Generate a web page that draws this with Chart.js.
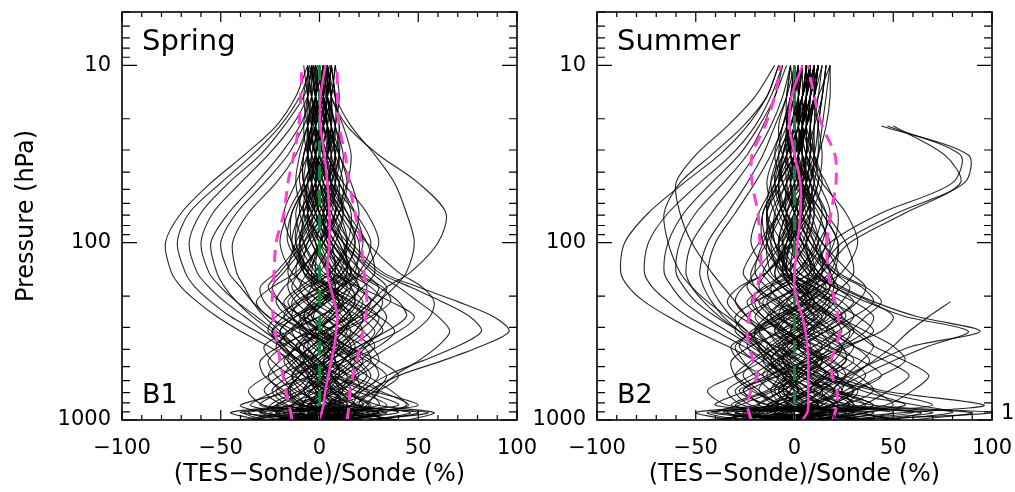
<!DOCTYPE html>
<html>
<head>
<meta charset="utf-8">
<script src="https://cdn.jsdelivr.net/npm/chart.js@4.4.1/dist/chart.umd.min.js"></script>
<style>
  html, body { margin: 0; padding: 0; background: #fff; }
  body { width: 1015px; height: 492px; position: relative; overflow: hidden; }
  canvas { position: absolute; top: 0; }
</style>
</head>
<body>
<canvas id="spring" width="560" height="492" style="left:0"></canvas>
<canvas id="summer" width="493" height="492" style="left:522px"></canvas>
<script>
// pressure levels (hPa), bottom to top
const levels = [1000, 908, 825, 681, 562, 464, 383, 316, 261, 215, 178, 147, 100, 68, 46, 32, 22, 15, 10];

const xTicks = [-100, -50, 0, 50, 100];
const yTicks = [10, 100, 1000];

// spring: mean and mean +/- std
const springMean = [0, 1, 2, 3, 4.5, 6, 7.5, 8.5, 9, 7.5, 5.5, 4, 5, 5, 4, 2.5, 0.5, 0.5, 3];
const springLow  = [-14, -14.5, -15.5, -17, -18.5, -20, -21, -22.5, -23.5, -24, -23.5, -23, -22, -18, -16, -13, -10.5, -9.5, -9];
const springHigh = [14, 14.5, 15, 15.5, 17, 19, 20.5, 22, 23.5, 24, 23.5, 22.5, 21, 18, 15, 13, 10, 9, 9];

// summer: mean and mean +/- std
const summerMean = [4, 6.5, 7, 7, 7, 7, 6.5, 5.5, 4, 1.5, 0, 0, 1.5, 3, 3, 0, -2.5, -1.5, 4];
const summerLow  = [-22, -23, -24, -22, -19, -21, -23, -24, -23, -21, -19, -17, -17.5, -18.5, -21.5, -21.5, -15, -10, -7];
const summerHigh = [19.5, 20.5, 21.5, 21.5, 19, 18.5, 21, 23, 22, 20.5, 18.5, 17, 16.5, 18.5, 21, 20.5, 14, 10, 7];

// individual spring profiles, (TES-Sonde)/Sonde in %
const springProfiles = [
  [5, -12, 8, 2, -6, 4, 10, 6, -3, 2, 8, 5, -2, 4, 6, 2, -3, 1, 3],
  [-20, 15, -5, 10, 14, 6, -4, -10, -6, 4, 12, 16, 10, 2, -4, -6, -2, 4, 6],
  [12, 30, -8, -15, -10, -2, 8, 18, 22, 14, 4, -6, -12, -8, 0, 6, 8, 4, -2],
  [-35, -10, -22, -5, 6, 12, 16, 10, 2, -8, -14, -10, 2, 10, 12, 8, 2, -4, -6],
  [40, 18, 25, 12, 4, -6, -12, -4, 8, 16, 20, 14, 4, -2, -6, -4, 0, 3, 5],
  [-8, -25, 5, 20, 18, 8, -2, -8, -14, -18, -10, 0, 8, 12, 6, -2, -6, -8, -5],
  [25, 55, 10, -4, -12, -18, -10, 4, 14, 20, 24, 18, 6, -4, -10, -8, -2, 2, 4],
  [-15, 5, -30, -18, -4, 10, 22, 28, 20, 8, -2, -8, -6, 2, 8, 10, 6, 2, 0],
  [0, -40, -12, 6, 16, 22, 14, 2, -10, -16, -8, 4, 14, 16, 10, 2, -4, -6, -8],
  [18, -5, 30, 24, 10, -4, -14, -20, -12, 2, 12, 18, 20, 12, 2, -4, -6, -2, 2],
  [-28, -38, -15, 2, -8, -16, -22, -14, 0, 10, 6, -2, -10, -6, 4, 8, 4, 0, -3],
  [10, 24, 45, 30, 14, 6, 2, 10, 18, 26, 30, 22, 8, 0, -4, -2, 2, 6, 8],
  [-5, 8, -18, -28, -20, -6, 6, 14, 8, -4, -12, -16, -12, -4, 2, 4, 2, -2, -4],
  [32, 12, -4, 8, 20, 30, 26, 16, 4, -6, -4, 6, 16, 20, 16, 10, 4, 0, -2],
  [-12, -30, -8, -14, -22, -26, -18, -6, 6, 12, 16, 12, 2, -8, -12, -10, -6, -2, 0],
  [6, 40, 20, 0, -6, 2, 12, 20, 28, 32, 26, 14, 0, -6, -2, 4, 8, 10, 8],
  [-22, 0, 12, -6, -14, -8, 0, -6, -14, -20, -24, -18, -6, 4, 10, 12, 8, 4, 2],
  [15, -18, -25, -10, 4, 16, 24, 30, 34, 28, 18, 8, -2, -8, -6, 0, 4, 2, -1],
  [45, 58, 30, 14, 6, 0, -6, -2, 6, 10, 4, -4, -14, -18, -12, -6, -2, 2, 4],
  [-40, -20, -35, -22, -12, -4, 4, 10, 16, 10, 2, -6, -10, -4, 4, 8, 10, 8, 6],
  [2, 14, -10, -20, -26, -20, -10, 0, 6, 14, 22, 28, 24, 14, 4, -2, -4, -2, 0],
  [20, -10, 16, 28, 34, 24, 10, -4, -16, -22, -18, -10, 0, 6, 8, 6, 2, -2, -3],
  [-10, 30, -2, 6, 2, -10, -18, -24, -18, -8, 4, 12, 18, 14, 6, 0, -2, 0, 2],
  [28, 4, 40, 22, 8, 12, 20, 34, 44, 40, 30, 18, 6, 0, -2, 0, 2, 4, 6],
  [-30, -45, -20, -8, 2, 8, 4, -6, -14, -10, 0, 10, 14, 8, 0, -6, -8, -6, -4],
  [8, -6, 2, 16, 24, 18, 6, -6, -20, -28, -30, -22, -10, -2, 4, 6, 4, 2, 0],
  [-2, 22, 8, -12, -18, -12, -4, 8, 20, 26, 20, 10, 2, -2, -4, -2, 0, 1, 2],
  [35, 20, 6, -2, 10, 20, 28, 22, 12, 4, -2, -4, 0, 8, 14, 16, 12, 6, 3],
  [-4, 6, -6, 4, 10, 8, 2, -4, -8, -4, 4, 8, 6, 0, -4, -6, -4, 0, 2],
  [12, -2, 14, 6, -2, -8, -10, -4, 4, 10, 14, 10, 4, 2, 4, 6, 4, 2, 0],
  [-18, -8, -2, -10, -14, -6, 4, 12, 16, 10, 0, -8, -14, -10, -2, 2, 0, -4, -6],
  [22, 8, 4, 12, 18, 14, 4, -6, -10, -4, 6, 16, 22, 18, 10, 4, 0, -2, -4],
  [-8, 20, 10, -2, -4, 2, 10, 16, 10, 0, -8, -12, -8, 0, 6, 10, 10, 8, 6],
  [4, -22, -14, -4, 4, 12, 18, 12, 2, -6, -10, -6, 2, 8, 10, 4, -2, -6, -6],
  [30, 10, -10, -16, -10, -2, 6, 4, -4, -12, -16, -14, -4, 4, 8, 8, 6, 4, 4],
  [-24, -2, 22, 14, 6, 0, -8, -14, -8, 2, 10, 14, 12, 6, -2, -6, -6, -4, -2],
  [0, 10, -4, 0, 8, 16, 10, 0, -6, 0, 8, 4, -4, -10, -8, -2, 2, 4, 4],
  [14, 34, 2, -8, -2, 6, 14, 22, 16, 6, -4, -2, 6, 12, 8, 2, -2, -2, 0],
  [-14, -28, -40, -14, -6, -12, -20, -16, -6, 4, 10, 6, -2, -6, -4, 0, 4, 6, 4],
  [8, 0, 10, 20, 26, 20, 12, 8, 12, 18, 16, 8, 0, -4, 0, 4, 6, 4, 2],
  [-16, 12, 26, 8, -8, -16, -12, 2, 16, 22, 14, 2, -8, -12, -6, 2, 6, 6, 4],
  [26, 46, 14, 2, 10, 18, 8, -8, -18, -12, 0, 12, 18, 10, 0, -6, -4, 0, 2],
  [-34, -16, 4, 16, 10, -2, -16, -26, -22, -10, 4, 14, 8, -2, -8, -8, -4, -2, -2],
  [6, -30, -22, -8, 0, 6, 16, 26, 30, 20, 6, -6, -14, -14, -6, 4, 8, 8, 6],
  [16, 2, -16, -24, -14, 4, 20, 32, 26, 12, 0, -6, 0, 10, 14, 10, 4, -2, -4],
  [-26, 18, 6, 22, 30, 26, 14, 0, -10, -14, -6, 6, 14, 10, 2, -4, -6, -6, -4],
  [38, 24, 50, 26, 6, -10, -20, -24, -14, 0, 10, 16, 10, 2, -2, 0, 2, 4, 6],
  [-10, -22, 14, 4, -14, -24, -28, -16, 0, 14, 20, 16, 6, -4, -8, -6, -2, 2, 2],
  [0, 28, -10, -22, -4, 14, 30, 38, 30, 16, 2, -8, -10, -2, 6, 10, 8, 4, 2],
  [20, -14, 6, 30, 40, 30, 14, 2, -4, 0, 10, 20, 26, 18, 6, -2, -4, -2, 0],
  [-6, 4, -28, -36, -26, -14, -4, 4, 12, 18, 12, 0, -8, -8, -2, 4, 4, 2, 0],
  [10, -4, 18, 8, -4, -10, -4, 8, 20, 30, 34, 26, 12, 4, 0, -2, -2, 0, 2],
  [-20, -36, -6, 10, 20, 14, 2, -12, -26, -32, -24, -12, 2, 8, 6, 2, -2, -4, -4],
  [4, 14, 34, 18, 0, -8, -2, 10, 22, 16, 4, -6, -16, -14, -6, 0, 2, 2, 2],
  [-12, -4, -10, 4, 18, 26, 22, 8, -8, -20, -26, -20, -8, 2, 6, 8, 6, 2, -2],
  [28, 50, 18, 10, 2, -4, 0, 12, 26, 36, 32, 18, 2, -6, -6, -2, 2, 4, 4],
  [-2, -18, 20, 30, 16, 0, -14, -20, -12, 4, 16, 20, 12, 0, -8, -8, -4, 0, 2],
  [14, 6, -8, -18, -28, -30, -20, -4, 8, 12, 6, -4, -12, -10, -2, 4, 6, 6, 4],
  [-30, 10, 0, -8, -2, 10, 24, 40, 48, 36, 20, 6, -4, -6, 0, 4, 4, 2, 0],
  [8, -2, 4, 12, 6, -4, -8, 2, 14, 8, -4, -14, -20, -16, -8, -2, 0, -2, -4],
  [-8, 16, -4, -16, -10, 0, 6, 0, -8, -2, 10, 22, 30, 24, 12, 4, 0, 0, 2],
  [18, 32, 44, 36, 24, 14, 4, -2, 2, 8, 4, -2, 0, 4, 2, -2, -4, -2, 0],
  // bulging to the left near 100 hPa
  [2, -6, 4, -2, -8, -14, -26, -40, -52, -62, -70, -75, -78, -70, -55, -38, -22, -12, -6],
  [-4, 8, -2, 4, -4, -10, -20, -32, -45, -55, -63, -68, -72, -66, -50, -34, -20, -10, -4],
  [10, -10, 6, 0, -6, -12, -18, -28, -38, -48, -56, -62, -66, -60, -46, -30, -18, -8, -3],
  [-12, 4, -8, -4, 2, -4, -12, -22, -32, -42, -50, -56, -60, -54, -40, -26, -14, -6, -2],
  [6, 18, 0, 6, 0, -6, -14, -24, -34, -42, -48, -52, -55, -46, -32, -20, -10, -4, 0],
  [0, -16, -6, 2, 6, 0, -8, -16, -26, -34, -40, -46, -50, -42, -28, -16, -8, -2, 2],
  [-6, 2, 10, 8, 0, -6, -12, -20, -28, -34, -38, -42, -44, -36, -22, -12, -6, 0, 4],
  // bulging to the right
  [10, 30, 20, 26, 40, 62, 82, 96, 88, 70, 50, 32, 16, 6, 0, -2, 2, 6, 8],
  [-6, 12, 16, 22, 34, 52, 70, 82, 76, 62, 46, 30, 14, 4, -2, -4, 0, 4, 6],
  [4, 20, 24, 30, 38, 50, 60, 66, 60, 50, 40, 28, 12, 2, -4, -6, -2, 2, 4],
  [0, -10, 6, 10, 6, 2, 6, 12, 18, 26, 34, 46, 60, 64, 50, 30, 14, 6, 2],
  [-8, 4, 12, 6, -2, 4, 12, 18, 24, 30, 38, 44, 48, 44, 38, 28, 16, 8, 4],
  [14, -4, -14, 0, 12, 24, 36, 48, 56, 58, 52, 40, 24, 12, 4, 0, -2, 0, 2]
];

// individual summer profiles, (TES-Sonde)/Sonde in %
const summerProfiles = [
  [4, -14, 10, 20, 6, -6, -2, 8, 14, 4, -6, -10, -4, 4, 10, 6, 2, 4, 6],
  [-22, 10, -18, -6, 8, 14, 4, -8, -14, -6, 6, 14, 12, 2, -6, -10, -6, 0, 2],
  [30, 50, 16, 4, -8, -16, -10, 2, 12, 20, 14, 2, -10, -14, -6, 2, 6, 8, 8],
  [-38, -20, -30, -12, 2, 10, 18, 12, 2, -10, -18, -14, -2, 8, 14, 10, 4, 0, -2],
  [12, -30, 6, 18, 26, 20, 6, -6, -18, -24, -14, 0, 12, 18, 12, 4, 0, 2, 4],
  [-10, 24, 40, 22, 8, -4, -12, -20, -14, 0, 12, 20, 22, 14, 4, -2, -4, -2, 0],
  [48, 64, 20, -6, -14, -8, 2, 16, 26, 20, 8, -2, -8, -4, 4, 10, 12, 14, 16],
  [-46, -12, -4, 8, -4, -16, -24, -18, -6, 6, 12, 8, 0, -8, -12, -8, -2, 4, 6],
  [20, 6, -22, -30, -18, -4, 10, 22, 30, 24, 10, -4, -14, -16, -8, 0, 4, 6, 8],
  [-6, -42, -10, 6, 14, 24, 30, 20, 6, -8, -20, -26, -18, -8, 0, 4, 2, 0, 0],
  [60, 90, 30, 10, 16, 26, 18, 4, -8, -14, -8, 2, 10, 14, 10, 6, 8, 10, 12],
  [-26, -4, 18, 30, 20, 4, -10, -26, -30, -20, -6, 8, 16, 12, 2, -6, -8, -4, -2],
  [8, 36, -6, -18, -26, -20, -8, 6, 16, 24, 28, 20, 8, 0, -4, -4, 0, 4, 8],
  [-16, 6, -40, -24, -8, 6, 16, 24, 18, 6, -4, -12, -14, -8, 2, 8, 10, 10, 10],
  [36, 18, 56, 34, 14, 0, -6, 0, 10, 18, 22, 16, 4, -6, -10, -6, 0, 4, 6],
  [-4, -26, -12, 0, -10, -20, -28, -22, -10, 4, 10, 14, 10, 4, -2, -4, -2, 2, 4],
  [16, -8, 24, 40, 32, 18, 6, -2, 4, 14, 24, 30, 26, 16, 8, 4, 4, 6, 8],
  [-32, -50, -20, -6, 4, 12, 6, -6, -16, -22, -16, -4, 6, 10, 6, 0, -4, -2, 0],
  [2, 20, 2, -12, -20, -26, -30, -20, -6, 8, 16, 10, -2, -10, -14, -10, -4, 0, 2],
  [26, 100, 40, 16, 6, 12, 24, 36, 40, 30, 14, 2, -6, -2, 6, 12, 16, 18, 18],
  [-12, 4, -26, -34, -22, -10, 0, 10, 4, -6, -14, -20, -16, -8, -2, 2, 4, 4, 4],
  [40, 12, 28, 20, 26, 34, 40, 32, 20, 8, 0, -6, -2, 6, 12, 14, 12, 10, 10],
  [-20, -34, 8, 24, 14, 2, -8, -14, -24, -30, -26, -14, -2, 4, 2, -2, -4, -4, -2],
  [10, 56, 96, 44, 20, 8, 2, 8, 16, 10, 0, -8, -12, -8, 0, 6, 10, 14, 16],
  [-40, -16, -8, -22, -30, -22, -12, -2, 8, 16, 20, 18, 8, 0, -6, -8, -6, -2, 0],
  [18, -6, 12, 2, -6, 4, 16, 28, 36, 44, 36, 22, 8, 2, 0, 2, 6, 10, 12],
  [-8, 14, -14, 12, 28, 38, 30, 16, 0, -12, -20, -22, -14, -6, 0, 2, 0, 0, 2],
  [54, 30, 8, -4, 4, 14, 10, -4, -12, -6, 4, 12, 20, 22, 16, 8, 4, 2, 4],
  [0, -20, 20, 8, -2, -8, -4, 4, 10, 4, -2, -6, -4, 0, 4, 6, 6, 6, 6],
  [-14, 8, -2, -8, 2, 8, 0, -10, -4, 6, 2, -4, -8, -4, 2, 4, 2, 2, 4],
  [6, -4, 14, 4, -6, -12, -6, 6, 0, -8, -12, -6, 4, 8, 4, -2, 0, 4, 8],
  [24, 40, 4, 14, 22, 14, 2, -8, -2, 12, 18, 12, 0, -6, -8, -2, 4, 8, 10],
  [-30, -8, -32, -14, -2, 4, 14, 20, 12, 2, 8, 6, -6, -14, -12, -6, 0, 6, 10],
  [12, 26, -4, -2, 8, 20, 24, 16, 22, 30, 20, 6, -2, 2, 8, 12, 14, 16, 18],
  [-4, -36, -18, -26, -12, -2, -6, -14, -20, -12, 0, -4, -10, -14, -10, -4, 2, 2, 0],
  [34, 6, 18, 30, 10, -4, -14, -2, 6, -2, -10, -16, -6, 2, 6, 4, 2, 4, 6],
  [-24, 30, 10, -4, -16, -10, 2, -4, -12, -18, -6, 8, 4, -4, -8, -6, -2, 2, 4],
  [8, -10, -6, 10, 18, 8, -4, 6, 18, 10, 2, -2, 6, 10, 8, 4, 6, 10, 14],
  [44, 80, 62, 20, 2, -6, 4, 14, 6, -4, 4, 14, 18, 10, 2, -2, 2, 6, 10],
  [14, 30, 20, 30, 44, 56, 50, 36, 22, 10, 2, -4, -2, 4, 8, 10, 10, 12, 14],
  [-2, 12, 34, 48, 58, 46, 30, 18, 10, 4, -2, -6, -4, 2, 6, 8, 8, 10, 12],
  [30, 18, 46, 60, 68, 56, 40, 30, 20, 10, 2, -4, -2, 6, 10, 12, 12, 14, 16],
  [-18, 16, 40, 18, -2, -14, -18, -8, 6, 16, 10, -2, -12, -14, -8, 0, 6, 10, 12],
  [22, 60, 24, 8, 18, 30, 22, 6, -10, -16, -8, 4, 14, 16, 8, 0, 2, 6, 10],
  [-36, -24, 0, 14, 6, -8, -20, -30, -26, -12, 2, 10, 6, -4, -10, -8, -2, 4, 8],
  [6, -40, -28, -10, 4, 16, 24, 28, 18, 4, -6, -10, -4, 6, 12, 10, 6, 6, 8],
  [34, 10, -14, -26, -14, 6, 22, 30, 24, 14, 4, -4, -6, 2, 8, 10, 8, 8, 10],
  [-14, 20, 8, 26, 36, 28, 12, -4, -16, -20, -12, 2, 12, 8, 0, -4, -4, 0, 4],
  [50, 36, 70, 40, 12, -8, -18, -20, -8, 6, 14, 18, 10, 2, -2, 0, 4, 8, 12],
  [-8, -30, 12, 0, -16, -28, -32, -18, 0, 12, 18, 12, 2, -6, -8, -4, 2, 6, 8],
  [2, 34, -12, -28, -8, 12, 28, 40, 32, 18, 4, -6, -8, 0, 6, 8, 8, 10, 12],
  [16, -12, 4, 30, 44, 34, 16, 2, -8, -4, 8, 18, 22, 14, 4, -2, 0, 4, 8],
  [-10, 6, -34, -44, -30, -16, -4, 6, 14, 18, 10, -2, -10, -10, -4, 2, 6, 8, 8],
  [12, -2, 22, 10, -4, -12, -6, 8, 22, 32, 36, 28, 14, 6, 2, 2, 4, 8, 12],
  [-28, -44, -10, 8, 22, 16, 2, -14, -28, -34, -28, -14, 0, 8, 6, 2, 0, 0, 2],
  [0, 16, 36, 20, 2, -6, 0, 12, 24, 18, 6, -6, -16, -16, -8, 0, 4, 6, 6],
  [-16, -6, -14, 2, 16, 26, 24, 10, -6, -18, -24, -20, -8, 0, 4, 6, 6, 6, 6],
  [30, 70, 26, 14, 4, -4, 2, 16, 30, 40, 34, 20, 4, -4, -4, 0, 6, 12, 18],
  [-4, -22, 24, 32, 18, 2, -12, -18, -10, 6, 18, 22, 14, 2, -6, -6, -2, 4, 8],
  [18, 4, -10, -20, -30, -32, -22, -6, 6, 10, 4, -6, -14, -12, -4, 2, 6, 8, 10],
  [-40, 8, -2, -10, -4, 10, 26, 44, 50, 38, 22, 8, -2, -4, 2, 6, 8, 10, 12],
  [8, -6, 2, 14, 8, -2, -8, 0, 12, 6, -6, -14, -22, -18, -10, -4, 0, 2, 2],
  [-6, 22, -6, -18, -12, 0, 8, 2, -6, 0, 12, 24, 32, 26, 14, 6, 4, 6, 8],
  [20, 36, 50, 40, 26, 14, 4, -2, 2, 8, 4, -2, 0, 4, 4, 2, 4, 8, 12],
  // bulging to the left
  [0, -10, 6, -4, -10, -20, -34, -50, -64, -76, -84, -88, -86, -74, -56, -38, -24, -14, -8],
  [-8, 4, -4, 2, -6, -14, -26, -40, -54, -64, -72, -76, -74, -64, -48, -32, -20, -12, -6],
  [6, -18, -2, 4, -4, -12, -22, -34, -46, -56, -62, -66, -64, -56, -42, -28, -18, -10, -6],
  [-14, 0, -10, -2, 2, -6, -16, -28, -40, -50, -56, -60, -58, -50, -36, -24, -16, -10, -4],
  [10, 16, 2, -6, -2, -10, -18, -28, -38, -46, -52, -55, -52, -42, -30, -20, -12, -6, -2],
  [-4, -24, -8, -12, -8, -14, -20, -28, -36, -42, -46, -48, -44, -34, -24, -16, -10, -4, 0],
  [2, 8, 12, 0, -6, -12, -18, -24, -32, -38, -42, -44, -40, -30, -20, -12, -6, -2, 2],
  [0, 6, -4, 2, -2, -6, -12, -18, -24, -30, -36, -42, -52, -58, -60, -50, -34, -20, -10],
  [-6, -2, 4, -8, -4, -10, -16, -24, -34, -44, -52, -58, -64, -66, -58, -42, -26, -14, -8],
  // spikes to the right
  [6, -8, 14, 20, 10, 2, -4, -10, -6, 4, 8, 12, 24, 52, 86, 88, 44, null, null],
  [-10, 12, -4, 6, 16, 10, 0, -6, 2, 10, 6, 8, 18, 44, 80, 84, 47, null, null],
  [14, 22, 4, -6, 0, 8, 14, 6, -2, -8, 2, 14, 28, 56, 84, 76, 50, null, null],
  [10, 28, 20, 14, 26, 42, 60, 94, 62, 40, 24, 12, 4, 0, -2, 2, 6, 10, 12],
  [-6, 14, 30, 22, 34, 50, 68, 88, 56, 36, 20, 10, 6, 8, 6, 4, 4, 6, 8],
  [4, 16, 30, 24, 30, 40, 50, 58, 68, 79, null, null, null, null, null, null, null, null, null]
];

const pink = '#ff3fd2';
const green = '#16873a';
Chart.defaults.font.family = '"DejaVu Sans", sans-serif';
Chart.defaults.color = '#000';

function toPoints(values) {
  const pts = [];
  values.forEach((v, i) => {
    if (v !== null && i < levels.length) pts.push({x: v, y: levels[i]});
  });
  return pts;
}

// frame with inward ticks plus the panel labels
const framePlugin = {
  id: 'frame',
  afterDatasetsDraw(chart, args, opts) {
    const {ctx, chartArea: a, scales: {x, y}} = chart;
    ctx.save();
    ctx.strokeStyle = '#000';
    ctx.lineWidth = 1.2;
    ctx.beginPath();
    for (let v = -100; v <= 100; v += 10) {
      const px = x.getPixelForValue(v);
      const len = v % 50 === 0 ? 10 : 5;
      ctx.moveTo(px, a.bottom); ctx.lineTo(px, a.bottom - len);
      ctx.moveTo(px, a.top); ctx.lineTo(px, a.top + len);
    }
    for (let d = 1; d <= 1000; d *= 10) {
      for (let m = 1; m < 10; m++) {
        const v = d * m;
        if (v < 5 || v > 1000) continue;
        const py = y.getPixelForValue(v);
        const len = m === 1 ? 15 : 8;
        ctx.moveTo(a.left, py); ctx.lineTo(a.left + len, py);
        ctx.moveTo(a.right, py); ctx.lineTo(a.right - len, py);
      }
    }
    ctx.stroke();
    ctx.lineWidth = 1.6;
    ctx.strokeRect(a.left, a.top, a.right - a.left, a.bottom - a.top);

    ctx.fillStyle = '#000';
    ctx.textAlign = 'left';
    ctx.textBaseline = 'alphabetic';
    ctx.font = '29px "DejaVu Sans"';
    ctx.fillText(opts.season, a.left + 20, a.top + 38);
    ctx.font = '27px "DejaVu Sans"';
    ctx.fillText(opts.tag, a.left + 20, a.bottom - 17);
    if (opts.edgeLabel) {
      ctx.font = '21px "DejaVu Sans"';
      ctx.textBaseline = 'middle';
      ctx.fillText(opts.edgeLabel, opts.edgeX, a.bottom - 6);
    }
    ctx.restore();
  }
};

function makeChart(id, profiles, mean, low, high, cfg) {
  const datasets = [
    {data: toPoints(mean), borderColor: pink, borderWidth: 2.5, tension: 0.3},
    {data: toPoints(low), borderColor: pink, borderWidth: 3, borderDash: [12, 8], tension: 0.3},
    {data: toPoints(high), borderColor: pink, borderWidth: 3, borderDash: [12, 8], tension: 0.3},
    {data: [{x: 0, y: 10}, {x: 0, y: 1000}], borderColor: green, borderWidth: 3, borderDash: [15, 10]}
  ];
  profiles.forEach(p => {
    datasets.push({data: toPoints(p), borderColor: 'rgba(0,0,0,0.85)', borderWidth: 1.1, tension: 0.3});
  });

  return new Chart(document.getElementById(id), {
    type: 'scatter',
    data: {datasets},
    options: {
      responsive: false,
      animation: false,
      events: [],
      showLine: true,
      elements: {point: {radius: 0}},
      layout: {padding: {top: 12, right: cfg.padRight, left: 0, bottom: 0}},
      plugins: {
        legend: {display: false},
        tooltip: {enabled: false},
        frame: {season: cfg.season, tag: cfg.tag, edgeLabel: cfg.edgeLabel, edgeX: cfg.edgeX}
      },
      scales: {
        x: {
          type: 'linear',
          min: -100,
          max: 100,
          grid: {display: false, drawTicks: false},
          border: {display: false},
          afterBuildTicks: s => { s.ticks = xTicks.map(v => ({value: v})); },
          afterFit: s => { s.height = 72; s.paddingLeft = 0; s.paddingRight = 0; },
          ticks: {
            padding: 16,
            autoSkip: false,
            maxRotation: 0,
            font: {size: 21},
            callback: v => String(v).replace('-', '\u2212')
          },
          title: {
            display: true,
            text: '(TES\u2212Sonde)/Sonde (%)',
            font: {size: 24},
            padding: {top: 0, bottom: 3}
          }
        },
        y: {
          type: 'logarithmic',
          min: 5,
          max: 1000,
          reverse: true,
          grid: {display: false, drawTicks: false},
          border: {display: false},
          afterBuildTicks: s => { s.ticks = yTicks.map(v => ({value: v})); },
          afterFit: s => { s.width = cfg.yWidth; s.paddingTop = 0; s.paddingBottom = 0; },
          ticks: {
            padding: 11,
            autoSkip: false,
            font: {size: 21},
            callback: v => String(v)
          },
          title: {
            display: cfg.yTitle,
            text: 'Pressure (hPa)',
            font: {size: 24},
            padding: {top: 12, bottom: 0}
          }
        }
      }
    },
    plugins: [framePlugin]
  });
}

makeChart('spring', springProfiles, springMean, springLow, springHigh,
  {season: 'Spring', tag: 'B1', padRight: 43, yWidth: 122, yTitle: true});
makeChart('summer', summerProfiles, summerMean, summerLow, summerHigh,
  {season: 'Summer', tag: 'B2', padRight: 23, yWidth: 75, yTitle: false, edgeLabel: '1000', edgeX: 479});
</script>
</body>
</html>
